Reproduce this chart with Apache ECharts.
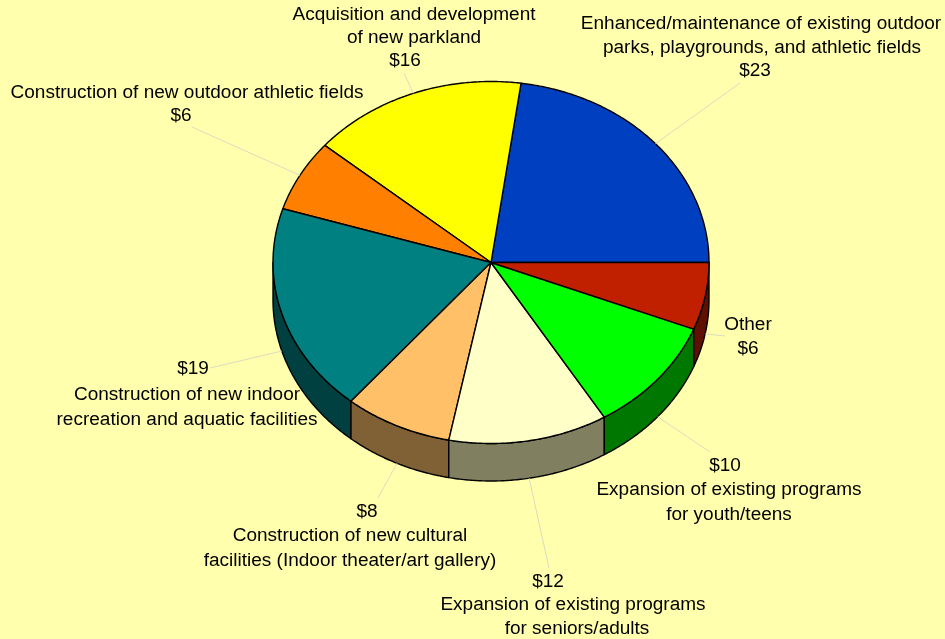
<!DOCTYPE html>
<html><head><meta charset="utf-8">
<style>html,body{margin:0;padding:0;background:#ffffad}#c{width:945px;height:639px}</style>
<script src="https://cdn.jsdelivr.net/npm/echarts@6/dist/echarts.min.js"></script>
</head><body><div id="c"></div>
<script>
// Data, counter-clockwise from 3 o'clock (slice sizes; labels show them rounded)
const names = [
  ['Enhanced/maintenance of existing outdoor','parks, playgrounds, and athletic fields'],
  ['Acquisition and development','of new parkland'],
  ['Construction of new outdoor athletic fields'],
  ['Construction of new indoor','recreation and aquatic facilities'],
  ['Construction of new cultural','facilities (Indoor theater/art gallery)'],
  ['Expansion of existing programs','for seniors/adults'],
  ['Expansion of existing programs','for youth/teens'],
  ['Other']
];
const values = [22.8,16,6.4,18.7,8,11.8,10.3,6];
const valueFirst = [false,false,false,true,true,true,true,false];
const topColors = ['#0040c0','#ffff00','#ff8000','#008080','#ffc068','#ffffc8','#00ff00','#c02000'];
const sideColors = ['#002060','#808000','#804000','#004040','#806035','#808060','#007800','#601000'];

// Layout
const CX=491, CY=262.5, RX=218, RY=181, DEPTH=37.5;
const total = values.reduce((a,b)=>a+b,0);
const FONT = '18px "Liberation Sans", Arial, sans-serif';
const TEXT_STRETCH = 1.056;
// centre x / middle y of each text line, in the order the lines appear in the picture
const lineSpots = [
  [[761,24],[762,48],[755,71]],
  [[414,15],[414,38],[405,61]],
  [[187,93],[181,116]],
  [[193,369],[187,395],[187,420]],
  [[367,512],[350,536],[350,561]],
  [[548,582],[573,605],[577,629]],
  [[725,466],[729,490],[729,515]],
  [[748,325],[748,349]]
];
const leaderEnds = [[740,83],[404,73],[192,127],[210,368],[378,498],[549,568],[710,452],[725,336]];

const startOf = i => values.slice(0,i).reduce((a,b)=>a+b,0)/total*360;
const pt = (deg,dy) => [CX+RX*Math.cos(deg*Math.PI/180), CY-RY*Math.sin(deg*Math.PI/180)+(dy||0)];
const arc = (a,b,dy) => { const r=[]; const n=Math.max(2,Math.ceil(Math.abs(b-a)*2));
  for(let k=0;k<=n;k++) r.push(pt(a+(b-a)*k/n,dy)); return r; };

const sideItem = (params,api) => {
  const i=params.dataIndex, a=startOf(i), b=a+api.value(0)/total*360;
  const lo=Math.max(a,180), hi=Math.min(b,360);
  if(hi<=lo) return null;
  return {type:'polygon',shape:{points:arc(lo,hi,0).concat(arc(hi,lo,DEPTH))},
    style:{fill:sideColors[i],stroke:'#000',lineWidth:1.4,lineJoin:'round'}};
};
const topItem = (params,api) => {
  const i=params.dataIndex, a=startOf(i), b=a+api.value(0)/total*360;
  return {type:'polygon',shape:{points:[[CX,CY]].concat(arc(a,b,0))},
    style:{fill:topColors[i],stroke:'#000',lineWidth:1.4,lineJoin:'round'}};
};
const labelItem = (params,api) => {
  const i=params.dataIndex, v=api.value(0), mid=startOf(i)+v/total*180;
  const dy = mid>180 ? DEPTH : 0;
  const money = '$'+Math.round(v);
  const lines = valueFirst[i] ? [money].concat(names[i]) : names[i].concat([money]);
  const kids = [{type:'line',shape:{x1:pt(mid,dy)[0],y1:pt(mid,dy)[1],x2:leaderEnds[i][0],y2:leaderEnds[i][1]},
    style:{stroke:'#dcdcc0',lineWidth:1,fill:null}}];
  lines.forEach((t,k)=>kids.push({type:'text',x:lineSpots[i][k][0],y:lineSpots[i][k][1],scaleX:TEXT_STRETCH,
    style:{text:t,font:FONT,fill:'#000',align:'center',verticalAlign:'middle'}}));
  return {type:'group',children:kids};
};
const rows = values.map(v=>[v]);
const series = [sideItem,topItem,labelItem].map(r=>({type:'custom',coordinateSystem:'none',renderItem:r,data:rows,silent:true,clip:false,animation:false}));
const chart = echarts.init(document.getElementById('c'),null,{renderer:'canvas'});
chart.setOption({backgroundColor:'#ffffad',animation:false,tooltip:{show:false},series});
</script></body></html>
